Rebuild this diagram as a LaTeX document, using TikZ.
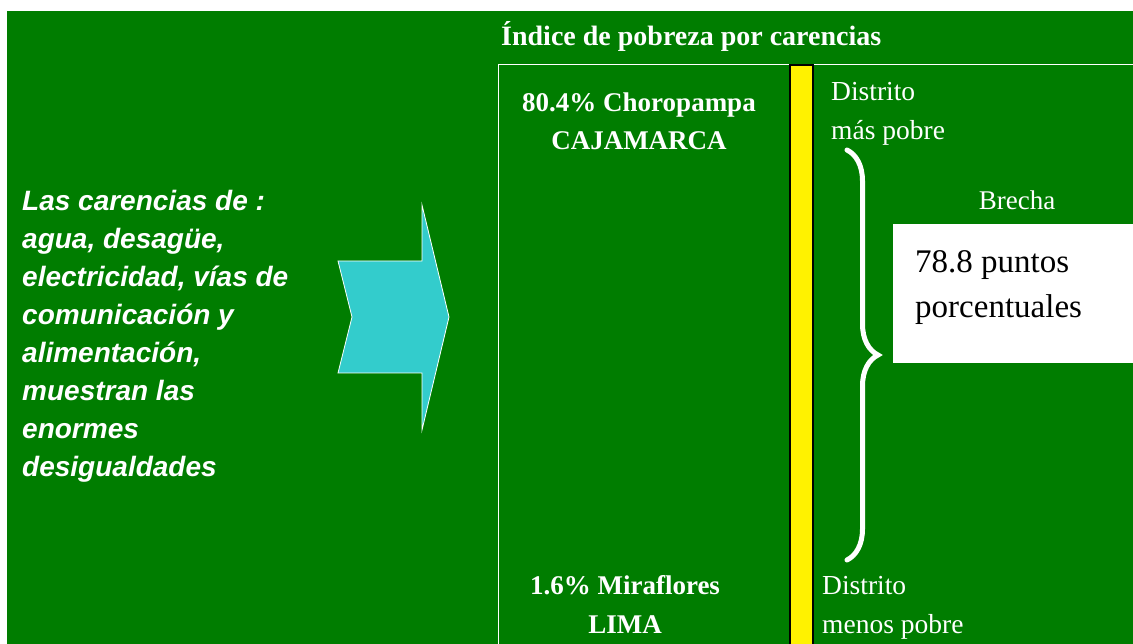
\documentclass[tikz,border=0pt]{standalone}
\usepackage{fontspec}
\setmainfont{Liberation Serif}
\newfontfamily\arialfont{Liberation Sans}
\usepackage{xcolor}
\usepackage{tikz}
\usetikzlibrary{positioning,decorations.pathreplacing}
\definecolor{bggreen}{RGB}{0,125,0}
\definecolor{arrowcyan}{RGB}{51,204,204}
\tikzset{
  place/.style={text=white,inner sep=0pt,font=\bfseries\fontsize{27}{38.5}\selectfont,align=center,anchor=base},
  distlbl/.style={text=white,inner sep=0pt,font=\fontsize{27.5}{39}\selectfont,align=left,anchor=base west},
  lefttxt/.style={text=white,inner sep=0pt,font=\arialfont\bfseries\itshape\fontsize{28}{38}\selectfont,align=left,anchor=west},
  gapbox/.style={rectangle,fill=white,draw=none,minimum width=240pt,minimum height=139pt,inner sep=0pt},
  gaptxt/.style={text=black,inner sep=0pt,font=\fontsize{33}{45}\selectfont,align=left,anchor=base west},
  bigarrow/.style={fill=arrowcyan,draw=white,line width=0.8pt},
  bar/.style={fill=yellow,draw=black,line width=1.5pt}
}

\begin{document}
\begin{tikzpicture}[x=1pt,y=-1pt]
    \useasboundingbox (0,0) rectangle (1133,644);
    \fill[bggreen] (7,11) rectangle (1133,644);

    % frame and bar
    \draw[white,line width=1pt] (498,644) -- (498,65) -- (1133,65);
    \draw[bar] (790,65) rectangle (813,650);

    \node[lefttxt] (causes) at (22,336) {Las carencias de :\\agua, desagüe,\\electricidad, vías de\\comunicación y\\alimentación,\\muestran las\\enormes\\desigualdades};

    \draw[bigarrow] (338,261) -- (422,261) -- (422,205) -- (449,317) -- (422,430) -- (422,373) -- (338,373) -- (352,317) -- cycle;

    \node[text=white,inner sep=0pt,anchor=base west,font=\bfseries\fontsize{28}{32}\selectfont] (title) at (501,46) {Índice de pobreza por carencias};

    \node[place] (poor) at (639,150) {80.4\% Choropampa\\CAJAMARCA};
    \node[place] (rich) at (625,633) {1.6\% Miraflores\\LIMA};

    \node[distlbl] (poorlbl) at (831,140) {Distrito\\más pobre};
    \node[distlbl] (richlbl) at (822,633) {Distrito\\menos pobre};

    % brace between the two districts
    \coordinate (btop) at (847,150);
    \coordinate (bbot) at (847,560);
    \draw[white,line width=5pt,line cap=round,decorate,decoration={brace,amplitude=31pt}] (btop) -- (bbot);

    \node[gapbox] (gap) at (1013,293.5) {};
    \node[text=white,inner sep=0pt,font=\fontsize{27}{32}\selectfont,above=14pt of gap,xshift=4pt] (brecha) {Brecha};
    \node[gaptxt] (gaptext) at (915,318) {78.8 puntos\\porcentuales};
\end{tikzpicture}
\end{document}
